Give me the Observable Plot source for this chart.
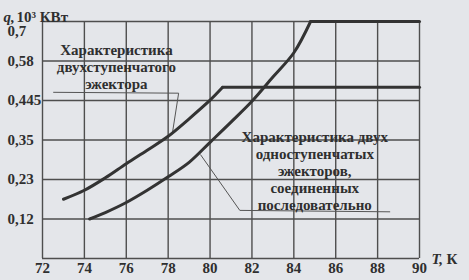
<!DOCTYPE html>
<html>
<head>
<meta charset="utf-8">
<script src="https://cdn.jsdelivr.net/npm/d3@7"></script>
<script src="https://cdn.jsdelivr.net/npm/@observablehq/plot@0.6"></script>
<style>
  html, body { margin: 0; padding: 0; background: #e4e6ea; }
  #chart { width: 469px; height: 280px; overflow: hidden; }
  #chart svg, #chart svg text { font-family: "Liberation Serif", "DejaVu Serif", serif !important; }
</style>
</head>
<body>
<div id="chart"></div>
<script>
// Axis ticks
const xTicks = [72, 74, 76, 78, 80, 82, 84, 86, 88, 90];
const yTicks = [0.12, 0.23, 0.35, 0.445, 0.58, 0.7];
const yTickLabels = ["0,12", "0,23", "0,35", "0,445", "0,58", "0,7"];

// Characteristic of the two-stage ejector (rising part + plateau)
const twoStageT = [73, 74, 75, 76, 77, 78, 79, 80, 80.6];
const twoStageQ = [0.175, 0.200, 0.235, 0.278, 0.319, 0.359, 0.401, 0.446, 0.49];
const twoStagePlateauT = [80.6, 90];
const twoStagePlateauQ = [0.49, 0.49];

// Characteristic of two single-stage ejectors in series
const seriesT = [74.25, 75, 76, 77, 78, 79, 80, 81, 82, 83, 84, 84.8];
const seriesQ = [0.12, 0.138, 0.166, 0.200, 0.238, 0.282, 0.343, 0.393, 0.443, 0.525, 0.605, 0.7];
const seriesPlateauT = [84.8, 90];
const seriesPlateauQ = [0.7, 0.7];

// Annotation texts and leader lines (data units)
const label1 = "Характеристика\nдвухступенчатого\nэжектора";
const label1Pos = [75.53, 0.56];
const leader1T = [72.53, 78.5, 78.21];
const leader1Q = [0.473, 0.47, 0.369];

const label2 = "Характеристика двух\nодноступенчатых\nэжекторов,\nсоединенных\nпоследовательно";
const label2Pos = [85.0, 0.258];
const leader2T = [79.55, 81.42, 88.58];
const leader2Q = [0.305, 0.144, 0.14];

const zip = (xs, ys) => xs.map((x, i) => ({T: x, q: ys[i]}));

const ink = "#2f2f2f";
const gridInk = "#4e4e4e";
const font = "Liberation Serif, DejaVu Serif, serif";
const txt = {fontFamily: font, fontSize: 15, fontWeight: "bold", fill: ink};

const yLabelRows = yTicks.map((v, i) => ({q: v, label: yTickLabels[i]}));

const chart = Plot.plot({
  width: 469,
  height: 280,
  marginLeft: 42,
  marginRight: 50,
  marginTop: 21,
  marginBottom: 22,
  x: {domain: [72, 90], axis: null},
  y: {type: "linear", domain: [0, ...yTicks], axis: null},
  style: {
    background: "#e4e6ea",
    fontFamily: font,
    fontSize: "15px",
    fontWeight: "bold",
    color: ink
  },
  marks: [
    // grid / frame
    Plot.ruleX(xTicks, {stroke: gridInk, strokeWidth: 1.4}),
    Plot.ruleY([0, ...yTicks], {stroke: gridInk, strokeWidth: 1.4}),

    // x axis tick labels
    Plot.axisX(xTicks, {
      tickSize: 0,
      tickPadding: 4,
      tickFormat: d => String(d),
      label: null,
      ...txt
    }),

    // y tick labels (left-aligned at the page edge)
    Plot.text(yLabelRows.filter(d => d.q !== 0.7), {
      y: "q", text: "label", frameAnchor: "left", dx: -35, textAnchor: "start", ...txt
    }),
    Plot.text(yLabelRows.filter(d => d.q === 0.7), {
      y: "q", text: "label", frameAnchor: "left", dx: -35, dy: 10, textAnchor: "start", ...txt
    }),

    // axis titles
    Plot.text(["q,"], {frameAnchor: "top-left", dx: -39, dy: -10, textAnchor: "start",
      fontStyle: "italic", ...txt}),
    Plot.text(["10³ КВт"], {frameAnchor: "top-left", dx: -26, dy: -10, textAnchor: "start", ...txt}),
    Plot.text(["T,"], {frameAnchor: "bottom-right", dx: 12, dy: 5, textAnchor: "start",
      fontStyle: "italic", ...txt}),
    Plot.text(["К"], {frameAnchor: "bottom-right", dx: 27, dy: 5, textAnchor: "start", ...txt}),

    // leader lines
    Plot.line(zip(leader1T, leader1Q), {x: "T", y: "q", stroke: "#555", strokeWidth: 1}),
    Plot.line(zip(leader2T, leader2Q), {x: "T", y: "q", stroke: "#555", strokeWidth: 1}),

    // curves
    Plot.line(zip(twoStageT, twoStageQ), {x: "T", y: "q", curve: "catmull-rom",
      stroke: "#333", strokeWidth: 3}),
    Plot.line(zip(twoStagePlateauT, twoStagePlateauQ), {x: "T", y: "q",
      stroke: "#333", strokeWidth: 3}),
    Plot.line(zip(seriesT, seriesQ), {x: "T", y: "q", curve: "catmull-rom",
      stroke: "#333", strokeWidth: 3}),
    Plot.line(zip(seriesPlateauT, seriesPlateauQ), {x: "T", y: "q",
      stroke: "#333", strokeWidth: 3}),

    // annotation labels
    Plot.text([label1], {x: () => label1Pos[0], y: () => label1Pos[1], text: d => d,
      lineHeight: 1.13, ...txt}),
    Plot.text([label2], {x: () => label2Pos[0], y: () => label2Pos[1], text: d => d,
      lineHeight: 1.13, ...txt})
  ]
});

document.getElementById("chart").appendChild(chart);
</script>
</body>
</html>
